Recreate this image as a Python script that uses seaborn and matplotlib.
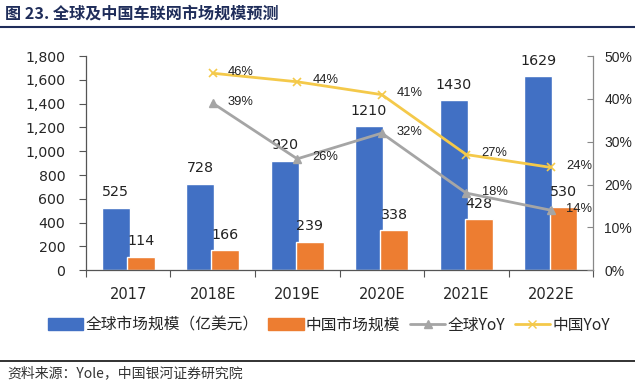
import matplotlib
matplotlib.use("Agg")
import matplotlib.pyplot as plt
import seaborn as sns
import numpy as np
import pandas as pd
from matplotlib.lines import Line2D
from matplotlib.patches import Patch

years = ["2017", "2018E", "2019E", "2020E", "2021E", "2022E"]
global_size = [525, 728, 920, 1210, 1430, 1629]
china_size = [114, 166, 239, 338, 428, 530]
global_yoy = [None, 39, 26, 32, 18, 14]
china_yoy = [None, 46, 44, 41, 27, 24]
left_ticks = [0, 200, 400, 600, 800, 1000, 1200, 1400, 1600, 1800]
right_ticks = [0, 10, 20, 30, 40, 50]
s_global = "全球市场规模（亿美元）"
s_china = "中国市场规模"
l_global = "全球YoY"
l_china = "中国YoY"
title = "图 23. 全球及中国车联网市场规模预测"
source = "资料来源：Yole，中国银河证券研究院"

sns.set_theme(style="white")
plt.rcParams['font.family'] = ['DejaVu Sans', 'Noto Sans CJK SC']

BLUE = "#4170C4"
ORANGE = "#ED7D31"
GREY = "#A5A5A5"
YELLOW = "#F4C94A"
AXIS = "#555555"

df = pd.DataFrame({
    "year": years * 2,
    "value": global_size + china_size,
    "series": [s_global] * len(years) + [s_china] * len(years),
})

fig = plt.figure(figsize=(6.35, 3.87), dpi=100)
ax = fig.add_axes([0.1354, 0.302, 0.7985, 0.553])
sns.barplot(data=df, x="year", y="value", hue="series", ax=ax,
            palette=[BLUE, ORANGE], width=0.6, gap=-0.1, saturation=1, legend=False)
ax.set_ylim(0, 1800)
ax.set_xlim(-0.5, len(years) - 0.5)
ax.set_yticks(left_ticks)
ax.set_yticklabels([f"{t:,}" for t in left_ticks], fontsize=10.2)
ax.set_xlabel("")
ax.set_ylabel("")
ax.set_xticks(np.arange(-0.5, len(years)), minor=True)
ax.tick_params(axis="x", which="major", labelsize=10.5, length=0, pad=12)
ax.tick_params(axis="x", which="minor", length=5, width=0.8, color=AXIS,
               bottom=True, direction="out")
ax.tick_params(axis="y", length=5, width=0.8, color=AXIS, left=True, pad=10)
for sp in ["top", "right"]:
    ax.spines[sp].set_visible(False)
for sp in ["left", "bottom"]:
    ax.spines[sp].set_color(AXIS)
    ax.spines[sp].set_linewidth(0.9)

for cont in ax.containers:
    ax.bar_label(cont, fmt="%d", padding=6, fontsize=10.3, color="#222222")

xs = np.arange(len(years))
ax2 = ax.twinx()
gy = np.array([np.nan if v is None else v for v in global_yoy], dtype=float)
cy = np.array([np.nan if v is None else v for v in china_yoy], dtype=float)
ax2.plot(xs, gy, color=GREY, lw=2, marker="^", ms=6, mfc=GREY, mec=GREY)
ax2.plot(xs, cy, color=YELLOW, lw=2, marker="x", ms=6, mew=1.2)
ax2.set_ylim(0, 50)
ax2.set_xlim(-0.5, len(years) - 0.5)
ax2.set_yticks(right_ticks)
ax2.set_yticklabels([f"{t}%" for t in right_ticks], fontsize=10, family=["Liberation Sans"])
ax2.tick_params(axis="y", length=4, width=0.8, color="#888888", right=True,
                direction="in", pad=8)
for sp in ["top", "left", "bottom"]:
    ax2.spines[sp].set_visible(False)
ax2.spines["right"].set_color("#888888")
ax2.spines["right"].set_linewidth(0.9)

for series in (gy, cy):
    for x, v in zip(xs, series):
        if not np.isnan(v):
            ax2.annotate(f"{int(v)}%", (x, v), xytext=(11, 1), textcoords="offset points",
                         fontsize=9.3, va="center", ha="left", color="#222222",
                         family=["Liberation Sans"])

handles = [
    Patch(color=BLUE, label=s_global),
    Patch(color=ORANGE, label=s_china),
    Line2D([], [], color=GREY, lw=2, marker="^", ms=6, label=l_global),
    Line2D([], [], color=YELLOW, lw=2, marker="x", ms=6, label=l_china),
]
fig.legend(handles=handles, loc="center", bbox_to_anchor=(0.518, 0.16), ncol=4,
           frameon=False, handlelength=2.25, handleheight=0.75,
           columnspacing=0.6, handletextpad=0.15,
           prop={"family": ["Noto Sans CJK SC", "DejaVu Sans"], "size": 11.3})

fig.text(0.008, 0.966, title, fontsize=11.6, fontweight="bold", color="#1F2D5A",
         family=["Noto Sans CJK SC", "DejaVu Sans"], va="center", ha="left")
fig.add_artist(Line2D([0, 1], [0.93, 0.93], color="#1F2D5A", lw=1.5, transform=fig.transFigure))
fig.add_artist(Line2D([0, 1], [0.068, 0.068], color="#222222", lw=1.3, transform=fig.transFigure))
fig.text(0.012, 0.036, source, fontsize=10, style="italic", color="#333333",
         family=["Noto Sans CJK SC", "DejaVu Sans"], va="center", ha="left")

fig.savefig("out.png", dpi=100, facecolor="white")
